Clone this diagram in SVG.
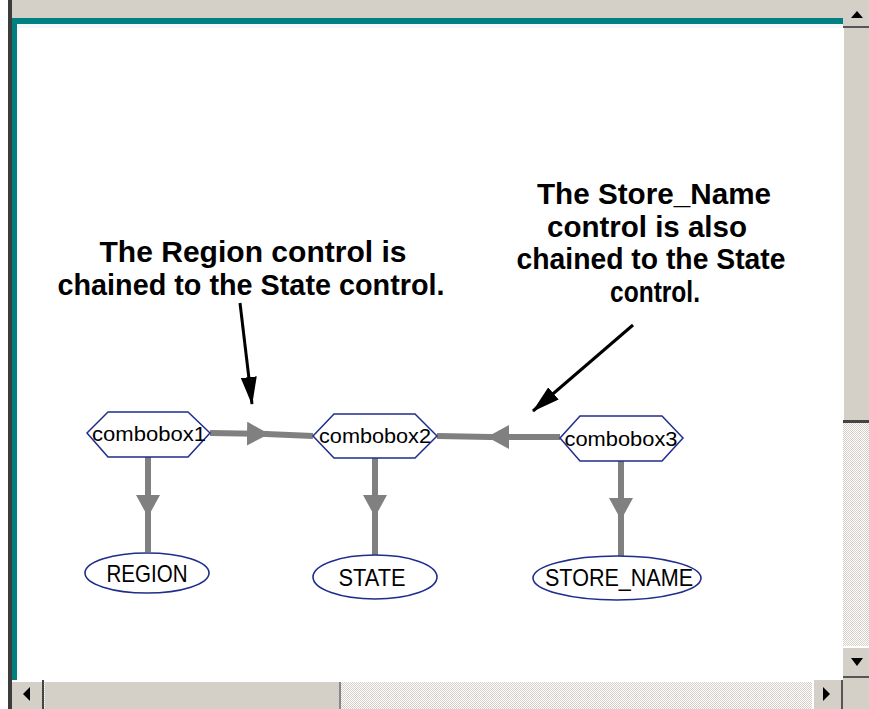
<svg xmlns="http://www.w3.org/2000/svg" width="869" height="709" viewBox="0 0 869 709">
  <style>
    .hex { fill: #ffffff; stroke: #1f2d8c; stroke-width: 1.5; }
    .ell { fill: #ffffff; stroke: #1f2d8c; stroke-width: 1.6; }
    .conn { stroke: #808080; stroke-width: 6; fill: none; }
    .note { stroke: #000000; stroke-width: 3; fill: none; }
    .lbl { font-family: "Liberation Sans", Arial, sans-serif; font-size: 20px; fill: #000000; text-anchor: middle; }
    .val { font-family: "Liberation Sans", Arial, sans-serif; font-size: 24px; fill: #000000; text-anchor: middle; }
    .ann { font-family: "Liberation Sans", Arial, sans-serif; font-size: 30px; font-weight: bold; fill: #000000; text-anchor: middle; }
    .chrome { fill: #d4d0c8; }
  </style>
  <defs>
    <pattern id="dither" width="2" height="2" patternUnits="userSpaceOnUse">
      <rect width="2" height="2" fill="#ffffff"/>
      <rect width="1" height="1" fill="#d4d0c8"/>
      <rect x="1" y="1" width="1" height="1" fill="#d4d0c8"/>
    </pattern>
    <marker id="gray-head" markerUnits="userSpaceOnUse" markerWidth="22" markerHeight="24" viewBox="0 0 22 24" refX="21" refY="12" orient="auto">
      <path d="M0,0 L22,12 L0,24 z" fill="#808080"/>
    </marker>
    <marker id="black-head" markerUnits="userSpaceOnUse" markerWidth="28" markerHeight="16" viewBox="0 0 28 16" refX="27" refY="8" orient="auto">
      <path d="M0,0 L28,8 L0,16 z" fill="#000000"/>
    </marker>
  </defs>

  <!-- window chrome -->
  <rect x="0" y="0" width="869" height="709" fill="#ffffff"/>
  <rect class="chrome" x="12" y="0" width="831" height="18"/>
  <rect x="12" y="18" width="831" height="6" fill="#008080"/>
  <rect x="17" y="24" width="826" height="4" fill="#f4f8fc"/>
  <rect x="8" y="0" width="4" height="709" fill="#3c3c3c"/>
  <rect x="12" y="18" width="5" height="662" fill="#008080"/>

  <!-- vertical scrollbar -->
  <rect x="843" y="0" width="26" height="709" fill="url(#dither)"/>
  <rect class="chrome" x="843" y="0" width="26" height="26"/>
  <rect x="843" y="26" width="26" height="2" fill="#555555"/>
  <path d="M851,18 L863,18 L857,11 z" fill="#000000"/>
  <rect class="chrome" x="843" y="28" width="26" height="392"/>
  <rect x="843" y="28" width="1" height="392" fill="#ffffff"/>
  <rect x="843" y="420" width="26" height="3" fill="#444444"/>
  <rect class="chrome" x="843" y="648" width="26" height="30"/>
  <rect x="843" y="646" width="26" height="2" fill="#ffffff"/>
  <rect x="843" y="676" width="26" height="2" fill="#555555"/>
  <path d="M851,658 L863,658 L857,666 z" fill="#000000"/>

  <!-- horizontal scrollbar -->
  <rect x="12" y="680" width="831" height="29" fill="url(#dither)"/>
  <rect class="chrome" x="12" y="680" width="30" height="29"/>
  <rect x="12" y="680" width="831" height="2" fill="#ffffff"/>
  <rect x="42" y="680" width="2" height="29" fill="#444444"/>
  <path d="M30,687 L30,701 L23,694 z" fill="#000000"/>
  <rect class="chrome" x="45" y="682" width="295" height="27"/>
  <rect x="339" y="682" width="2" height="27" fill="#888888"/>
  <rect class="chrome" x="812" y="680" width="31" height="29"/>
  <rect x="812" y="680" width="2" height="29" fill="#ffffff"/>
  <rect x="841" y="680" width="2" height="29" fill="#555555"/>
  <path d="M823,687 L823,701 L830,694 z" fill="#000000"/>
  <rect class="chrome" x="843" y="678" width="26" height="31"/>

  <!-- connectors -->
  <g id="connectors">
    <path class="conn" d="M210,433 L268,434" marker-end="url(#gray-head)"/>
    <path class="conn" d="M266,434 L313,436"/>
    <path class="conn" d="M560,437 L488,437" marker-end="url(#gray-head)"/>
    <path class="conn" d="M490,437 L437,436"/>
    <path class="conn" d="M148,457 L148,516" marker-end="url(#gray-head)"/>
    <path class="conn" d="M148,514 L148,552"/>
    <path class="conn" d="M375,458 L375,516" marker-end="url(#gray-head)"/>
    <path class="conn" d="M375,514 L375,555"/>
    <path class="conn" d="M621,461 L621,519" marker-end="url(#gray-head)"/>
    <path class="conn" d="M621,517 L621,556"/>
    <path class="note" d="M240,303 L252,404" marker-end="url(#black-head)"/>
    <path class="note" d="M633,325 L533,411" marker-end="url(#black-head)"/>
  </g>

  <!-- annotations -->
  <g id="note-region">
    <text class="ann" x="253" y="262" textLength="307" lengthAdjust="spacingAndGlyphs">The Region control is</text>
    <text class="ann" x="251" y="295" textLength="387" lengthAdjust="spacingAndGlyphs">chained to the State control.</text>
  </g>
  <g id="note-store">
    <text class="ann" x="654" y="204" textLength="234" lengthAdjust="spacingAndGlyphs">The Store_Name</text>
    <text class="ann" x="647" y="237" textLength="200" lengthAdjust="spacingAndGlyphs">control is also</text>
    <text class="ann" x="651" y="269" textLength="269" lengthAdjust="spacingAndGlyphs">chained to the State</text>
    <text class="ann" x="655" y="302" textLength="90" lengthAdjust="spacingAndGlyphs">control.</text>
  </g>

  <!-- nodes -->
  <g id="combobox1">
    <polygon class="hex" points="87,433 108,412 188,412 210,433 188,457 108,457"/>
    <text class="lbl" x="149" y="441" textLength="114" lengthAdjust="spacingAndGlyphs">combobox1</text>
  </g>
  <g id="combobox2">
    <polygon class="hex" points="313,436 334,414 415,414 437,436 415,458 334,458"/>
    <text class="lbl" x="375" y="443" textLength="112" lengthAdjust="spacingAndGlyphs">combobox2</text>
  </g>
  <g id="combobox3">
    <polygon class="hex" points="560,438 580,416 662,416 683,438 662,461 580,461"/>
    <text class="lbl" x="621" y="446" textLength="113" lengthAdjust="spacingAndGlyphs">combobox3</text>
  </g>
  <g id="region">
    <ellipse class="ell" cx="147" cy="573" rx="62" ry="20"/>
    <text class="val" x="147" y="582" textLength="81" lengthAdjust="spacingAndGlyphs">REGION</text>
  </g>
  <g id="state">
    <ellipse class="ell" cx="375" cy="577" rx="62" ry="22"/>
    <text class="val" x="372" y="586" textLength="67" lengthAdjust="spacingAndGlyphs">STATE</text>
  </g>
  <g id="store_name">
    <ellipse class="ell" cx="617" cy="578" rx="84" ry="22"/>
    <text class="val" x="619" y="586" textLength="148" lengthAdjust="spacingAndGlyphs">STORE_NAME</text>
  </g>
</svg>
